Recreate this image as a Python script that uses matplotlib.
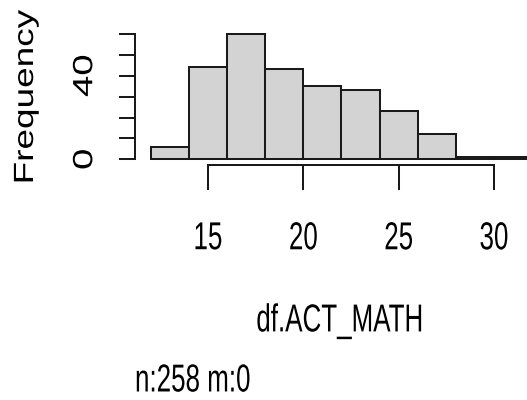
import matplotlib
matplotlib.use("Agg")
import matplotlib.pyplot as plt
from matplotlib.patheffects import AbstractPathEffect
from matplotlib.transforms import Affine2D

# histogram of df.ACT_MATH, bins of width 2
bin_edges = [12, 14, 16, 18, 20, 22, 24, 26, 28, 30, 32]
counts = [6, 44, 60, 43, 35, 33, 23, 12, 1, 1]
x_ticks = [15, 20, 25, 30]
y_ticks = [0, 10, 20, 30, 40, 50, 60]
y_ticklabels = ["0", "", "", "", "40", "", ""]
x_label = "df.ACT_MATH"
y_label = "Frequency"
note = "n:258 m:0"


class Stretch(AbstractPathEffect):
    # stretches the drawn glyphs vertically around their centre
    def __init__(self, sy):
        super().__init__()
        self.sy = sy

    def draw_path(self, renderer, gc, tpath, affine, rgbFace=None):
        ext = tpath.get_extents(affine)
        cy = (ext.y0 + ext.y1) / 2
        aff = affine + Affine2D().translate(0, -cy).scale(1, self.sy).translate(0, cy)
        renderer.draw_path(gc, tpath, aff, rgbFace)


plt.rcParams["font.family"] = ["Liberation Sans", "DejaVu Sans"]

fig = plt.figure(figsize=(5.27, 4.0), dpi=100)
ax = fig.add_axes([135 / 527, 1 - 164.7 / 400, 392 / 527, 134.7 / 400])

widths = [b - a for a, b in zip(bin_edges[:-1], bin_edges[1:])]
ax.bar(bin_edges[:-1], counts, width=widths, align="edge",
       color="#d3d3d3", edgecolor="#1a1a1a", linewidth=1.45)

ax.set_xlim(11.17, 31.73)
ax.set_ylim(-2.6, 61.9)

for s in ["top", "right"]:
    ax.spines[s].set_visible(False)
ax.spines["left"].set_bounds(0, 60)
ax.spines["bottom"].set_bounds(15, 30)
for s in ["left", "bottom"]:
    ax.spines[s].set_linewidth(1.45)
    ax.spines[s].set_color("#1a1a1a")

ax.set_xticks(x_ticks)
xl = ax.set_xticklabels([str(t) for t in x_ticks], fontsize=18.7)
ax.set_yticks(y_ticks)
yl = ax.set_yticklabels(y_ticklabels, rotation=90, va="center", fontsize=20)
ax.tick_params(axis="x", length=18, width=1.45, color="#1a1a1a", pad=26)
ax.tick_params(axis="y", length=11.5, width=1.45, color="#1a1a1a", pad=15)
for t in xl:
    t.set_path_effects([Stretch(1.5)])
for t in yl:
    t.set_path_effects([Stretch(1.38)])

lx = ax.set_xlabel(x_label, fontsize=18.7, va="center")
ax.xaxis.set_label_coords((340 - 135) / 392, (164.7 - 321) / 134.7)
lx.set_path_effects([Stretch(1.5)])

ly = ax.set_ylabel(y_label, fontsize=20, va="center")
ax.yaxis.set_label_coords((26 - 135) / 392, (164.7 - 97) / 134.7)
ly.set_path_effects([Stretch(1.33)])

tn = fig.text(135 / 527, 20 / 400, note, fontsize=18.7, ha="left", va="center")
tn.set_path_effects([Stretch(1.5)])

fig.savefig("out.png", dpi=100)
plt.close(fig)
